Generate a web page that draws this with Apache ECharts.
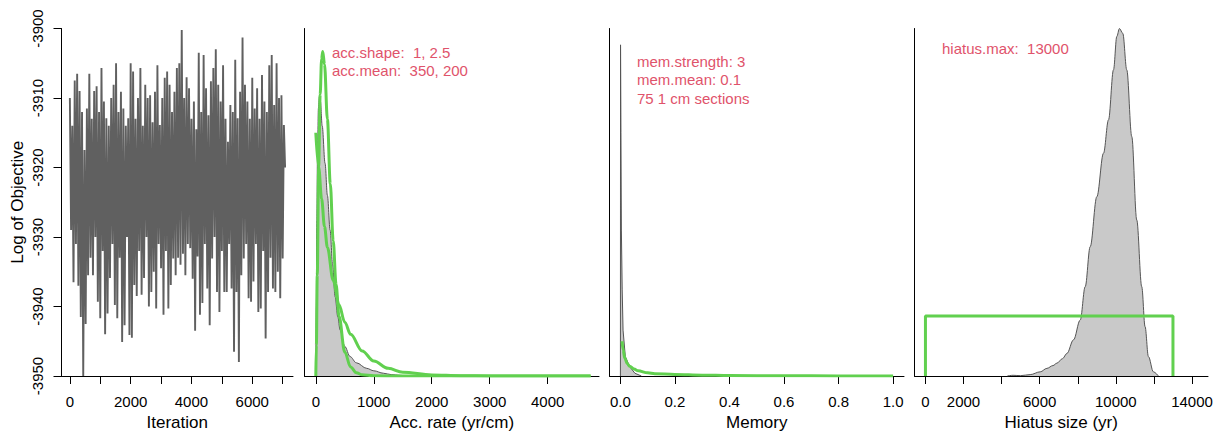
<!DOCTYPE html>
<html>
<head>
<meta charset="utf-8">
<script src="https://cdn.jsdelivr.net/npm/echarts@6/dist/echarts.min.js"></script>
<style>
html,body{margin:0;padding:0;background:#fff;}
#chart{width:1223px;height:439px;}
</style>
</head>
<body>
<div id="chart"></div>
<script>
// ---------- DATA ----------
// MCMC trace: log of objective, one value every ITER_STEP iterations
const ITER_STEP = 40;
const traceValues = [
 -3910,-3929,-3914,-3936.5,-3907.5,-3931,-3906.5,-3937,-3909,-3941.5,
 -3912,-3950,-3917.5,-3942.5,-3911.5,-3935.5,-3906.5,-3933,-3913,-3935.5,
 -3909,-3930,-3908.3,-3939.3,-3912,-3941.7,-3905.7,-3932,-3910.5,-3944,
 -3912.9,-3941,-3914,-3935.9,-3910,-3931,-3908.1,-3939.8,-3905,-3941.7,
 -3912,-3933,-3909.1,-3945.1,-3911.5,-3942.7,-3914,-3930,-3912.9,-3944.1,
 -3905,-3944.5,-3906.2,-3936.9,-3913,-3938.5,-3910,-3932,-3905.7,-3938.3,
 -3914,-3935.9,-3908.1,-3930,-3910,-3940,-3909.6,-3937.9,-3913.5,-3935,
 -3909.1,-3940.3,-3905.3,-3931,-3913.9,-3934.5,-3910,-3941.2,-3907.1,-3932,
 -3906.2,-3940.3,-3908.1,-3936.9,-3912,-3933.1,-3909.1,-3935.5,-3905.7,-3933,
 -3905,-3934,-3900.2,-3932.4,-3910,-3935.5,-3907,-3931,-3908.6,-3931.6,
 -3913,-3936,-3910.5,-3943.5,-3914.5,-3932.8,-3903.5,-3941.2,-3912,-3939.5,
 -3903.8,-3931,-3908.6,-3937.4,-3912.5,-3942.7,-3907.6,-3933.1,-3905.7,-3930,
 -3903,-3937.9,-3908.1,-3940.8,-3910.5,-3932,-3905.3,-3937.9,-3913,-3937.9,
 -3916.3,-3931,-3911,-3937.4,-3912,-3946.5,-3904.5,-3937.9,-3912.9,-3948,
 -3909.1,-3935.5,-3901.3,-3933.1,-3908.1,-3931,-3910.5,-3938.8,-3913,-3939.3,
 -3907.1,-3936.4,-3911.5,-3931,-3908.6,-3940.8,-3913,-3940.3,-3906.7,-3932,
 -3910.5,-3944.6,-3912,-3937.9,-3905.3,-3933,-3903.8,-3937.4,-3911,-3937.9,
 -3905,-3935,-3910,-3938.8,-3909.6,-3933.1,-3913.9,-3920
];
const iterTicks = [0,1000,2000,3000,4000,5000,6000,7000];
const iterLabels = [0,2000,4000,6000];

// Accumulation rate (yr/cm): posterior (grey) and priors (green), relative density
const accPosterior = [[0,0],[8,0.2],[18,0.45],[30,0.65],[45,0.77],[62,0.804],[80,0.79],[110,0.72],[160,0.612],[200,0.52],[247,0.42],[290,0.32],[333,0.228],[380,0.17],[419,0.132],[500,0.085],[591,0.056],[700,0.038],[879,0.022],[1000,0.015],[1166,0.008],[1300,0.004],[1453,0.002],[1550,0]];
const accPriorShape = [[0,0],[10,0.089],[25,0.291],[50,0.603],[75,0.81],[100,0.912],[120,0.934],[150,0.897],[200,0.739],[250,0.553],[300,0.389],[350,0.263],[400,0.172],[500,0.069],[600,0.026],[700,0.0094],[800,0.0033],[1000,0.0004],[1500,0],[4740,0]];
const accPriorMean = [[0,0.70],[50,0.6],[100,0.51],[150,0.43],[200,0.37],[300,0.275],[400,0.205],[500,0.155],[600,0.12],[800,0.072],[1000,0.043],[1250,0.022],[1500,0.011],[2000,0.003],[2500,0.001],[3000,0.0003],[4740,0]];
const accTicks = [0,1000,2000,3000,4000];

// Memory
const memPosterior = [[0,0],[0.0005,0.953],[0.002,0.7],[0.0036,0.42],[0.0065,0.25],[0.0097,0.132],[0.018,0.056],[0.034,0.027],[0.053,0.008],[0.077,0]];
const memPrior = [[0.006,0.10],[0.01,0.075],[0.016,0.052],[0.025,0.036],[0.034,0.028],[0.05,0.02],[0.065,0.015],[0.1,0.009],[0.126,0.0065],[0.2,0.0045],[0.3,0.0025],[0.4,0.0015],[0.6,0.0006],[0.8,0.0002],[1.0,0]];
const memTicks = [0,0.2,0.4,0.6,0.8,1.0];

// Hiatus size (yr)
const hiatusPosterior = [[4300,0],[4600,0.002],[5000,0.001],[5500,0.004],[6030,0.012],[6380,0.022],[6700,0.03],[6905,0.037],[7200,0.05],[7430,0.065],[7777,0.104],[8128,0.161],[8390,0.257],[8652,0.372],[9002,0.516],[9352,0.641],[9614,0.737],[9876,0.881],[10050,0.977],[10190,1.0],[10365,0.986],[10574,0.881],[10836,0.689],[11098,0.449],[11360,0.257],[11535,0.142],[11710,0.056],[11972,0.012],[12234,0]];
const hiatusPrior = [[0,0],[0,0.173],[13000,0.173],[13000,0]];
const hiatusTicks = [0,2000,4000,6000,8000,10000,12000,14000];
const hiatusLabels = [0,2000,6000,10000,14000];

// Annotations
const accText = ['acc.shape:  1, 2.5', 'acc.mean:  350, 200'];
const memText = ['mem.strength: 3', 'mem.mean: 0.1', '75 1 cm sections'];
const hiatusText = ['hiatus.max:  13000'];

// ---------- STYLE ----------
const FONT = '"Liberation Sans", Arial, Helvetica, sans-serif';
const BLACK = '#000';
const GREY_LINE = '#555555';
const GREY_FILL = '#c9c9c9';
const GREEN = '#61D04F';
const PINK = '#DF536B';

const chart = echarts.init(document.getElementById('chart'), null, {renderer: 'svg'});

function xAx(idx, min, max, ticks, labels, name, fmt) {
  return {
    type: 'value', gridIndex: idx, min: min, max: max,
    name: name, nameLocation: 'middle', nameGap: 37,
    nameTextStyle: {fontSize: 17, color: BLACK, fontFamily: FONT},
    axisLine: {show: true, onZero: false, lineStyle: {color: BLACK, width: 1}},
    axisTick: {show: true, length: 8, customValues: ticks, lineStyle: {color: BLACK, width: 1}},
    axisLabel: {show: true, customValues: labels, margin: 18, fontSize: 15, color: BLACK, fontFamily: FONT,
      formatter: fmt || (v => String(v))},
    splitLine: {show: false}
  };
}
function yAxDensity(idx) {
  return {
    type: 'value', gridIndex: idx, min: 0, max: 1,
    axisLine: {show: true, onZero: false, lineStyle: {color: BLACK, width: 1}},
    axisTick: {show: false}, axisLabel: {show: false}, splitLine: {show: false}
  };
}
function densityArea(idx, data, smooth) {
  return {
    type: 'line', xAxisIndex: idx, yAxisIndex: idx, data: data,
    symbol: 'none', smooth: smooth ? 0.35 : false, smoothMonotone: 'x',
    lineStyle: {color: GREY_LINE, width: 1},
    areaStyle: {color: GREY_FILL, opacity: 1},
    z: 2, silent: true
  };
}
function greenLine(idx, data, smooth) {
  return {
    type: 'line', xAxisIndex: idx, yAxisIndex: idx, data: data,
    symbol: 'none', smooth: smooth ? 0.35 : false, smoothMonotone: 'x',
    lineStyle: {color: GREEN, width: 3},
    z: 3, silent: true
  };
}
function textBlock(x, y0, lines, step) {
  return lines.map((t, i) => ({
    type: 'text', x: x, y: y0 + i * step, silent: true,
    style: {text: t, fill: PINK, font: '15px ' + FONT, verticalAlign: 'middle', align: 'left'}
  }));
}

const option = {
  animation: false,
  backgroundColor: '#fff',
  grid: [
    {left: 61.5, top: 28.5, width: 231.5, height: 347.5},
    {left: 304.5, top: 28.5, width: 294.5, height: 347.5},
    {left: 609.5, top: 28.5, width: 294.5, height: 347.5},
    {left: 914.5, top: 28.5, width: 293.5, height: 347.5}
  ],
  xAxis: [
    xAx(0, -275, 7340, iterTicks, iterLabels, 'Iteration'),
    xAx(1, -195, 4885, accTicks, accTicks, 'Acc. rate (yr/cm)'),
    xAx(2, -0.04, 1.04, memTicks, memTicks, 'Memory', v => v.toFixed(1)),
    xAx(3, -575, 14840, hiatusTicks, hiatusLabels, 'Hiatus size (yr)')
  ],
  yAxis: [
    {
      type: 'value', gridIndex: 0, min: -3950, max: -3900, interval: 10,
      name: 'Log of Objective', nameLocation: 'middle', nameGap: 36,
      nameTextStyle: {fontSize: 17, color: BLACK, fontFamily: FONT},
      axisLine: {show: true, onZero: false, lineStyle: {color: BLACK, width: 1}},
      axisTick: {show: true, length: 8, lineStyle: {color: BLACK, width: 1}},
      axisLabel: {show: true, rotate: 90, margin: 17, fontSize: 15, color: BLACK, fontFamily: FONT,
        formatter: v => String(v)},
      splitLine: {show: false}
    },
    yAxDensity(1), yAxDensity(2), yAxDensity(3)
  ],
  series: [
    {
      type: 'line', xAxisIndex: 0, yAxisIndex: 0,
      data: traceValues.map((v, i) => [i * ITER_STEP, v]),
      symbol: 'none', lineStyle: {color: '#606060', width: 1.9, join: 'miter'}, silent: true
    },
    densityArea(1, accPosterior, true),
    greenLine(1, accPriorShape, true),
    greenLine(1, accPriorMean, true),
    densityArea(2, memPosterior, false),
    greenLine(2, memPrior, true),
    densityArea(3, hiatusPosterior, true),
    greenLine(3, hiatusPrior, false)
  ],
  graphic: [].concat(
    textBlock(332, 52, accText, 18.5),
    textBlock(637, 61, memText, 18.8),
    textBlock(942, 48, hiatusText, 18.5)
  )
};
chart.setOption(option);
</script>
</body>
</html>
